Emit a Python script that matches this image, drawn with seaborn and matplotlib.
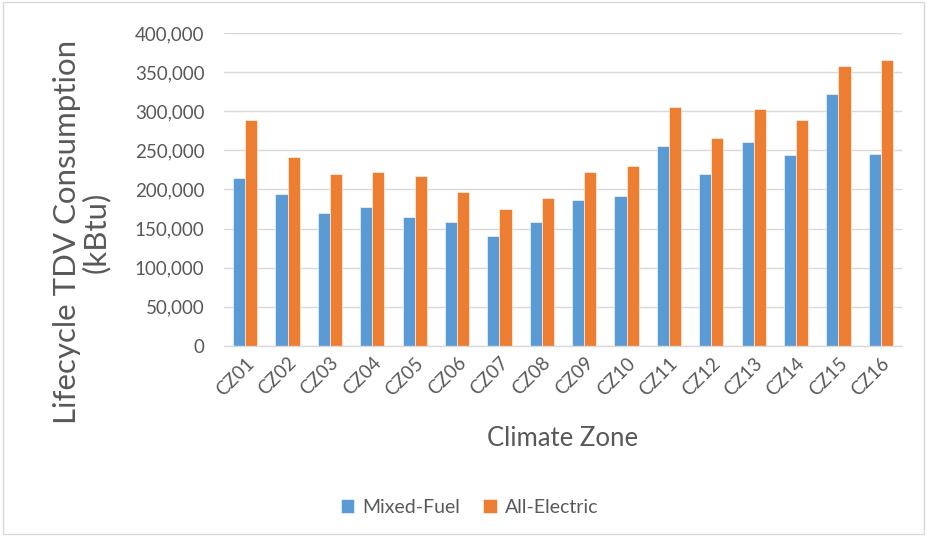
import pandas as pd
import matplotlib.pyplot as plt
import seaborn as sns

zones = ['CZ01', 'CZ02', 'CZ03', 'CZ04', 'CZ05', 'CZ06', 'CZ07', 'CZ08',
         'CZ09', 'CZ10', 'CZ11', 'CZ12', 'CZ13', 'CZ14', 'CZ15', 'CZ16']
mixed_fuel = [215000, 194000, 170000, 177000, 165000, 158000, 141000, 158000,
              186500, 191500, 255500, 220000, 260500, 244000, 322000, 246000]
all_electric = [289000, 241500, 220000, 222500, 217500, 196500, 175000, 188500,
                222500, 229500, 305500, 265500, 303000, 289000, 358000, 365000]
y_ticks = [0, 50000, 100000, 150000, 200000, 250000, 300000, 350000, 400000]

# long format for seaborn
df = pd.DataFrame({
    'zone': zones * 2,
    'value': mixed_fuel + all_electric,
    'series': ['Mixed-Fuel'] * len(zones) + ['All-Electric'] * len(zones),
})

sns.set_style('white')
plt.rcParams['font.family'] = ['Lato', 'DejaVu Sans']
text_color = '#595959'

fig = plt.figure(figsize=(9.27, 5.36), dpi=100)
ax = fig.add_axes([224 / 927, 1 - 346 / 536, (902 - 224) / 927, (346 - 33) / 536])

sns.barplot(data=df, x='zone', y='value', hue='series', ax=ax,
            palette={'Mixed-Fuel': '#5B9BD5', 'All-Electric': '#ED7D31'},
            width=0.57, saturation=1, edgecolor='white', linewidth=0.4)

ax.set_ylim(0, 400000)
ax.set_xlim(-0.5, len(zones) - 0.5)
ax.set_yticks(y_ticks)
ax.set_yticklabels([f'{v:,}' for v in y_ticks], fontsize=13.5, color=text_color)
ax.yaxis.grid(True, color='#d9d9d9', linewidth=1)
ax.set_axisbelow(True)
for side in ['top', 'right', 'left']:
    ax.spines[side].set_visible(False)
ax.spines['bottom'].set_color('#d9d9d9')
ax.spines['bottom'].set_linewidth(1)
ax.tick_params(axis='y', length=0, pad=14)
ax.tick_params(axis='x', length=0, pad=6)
plt.setp(ax.get_xticklabels(), rotation=45, ha='right', rotation_mode='anchor',
         fontsize=13.5, color=text_color)

ax.set_xlabel('Climate Zone', fontsize=18.5, color=text_color)
ax.xaxis.set_label_coords(0.5, -0.294)
ax.xaxis.label.set_va('center')
ax.set_ylabel('Lifecycle TDV Consumption\n(kBtu)', fontsize=22.5, color=text_color,
              linespacing=1.0)
ax.yaxis.set_label_coords(-0.21, 0.364)
ax.yaxis.label.set_va('center')

ax.legend(loc='center', bbox_to_anchor=(0.362, -0.515), ncol=2, frameon=False,
          fontsize=14, labelcolor=text_color, handlelength=0.7, handleheight=0.7,
          columnspacing=1.2, handletextpad=0.4)

# thin frame round the figure like the exported chart
fig.patches.append(plt.Rectangle((0.003, 0.003), 0.994, 0.994, transform=fig.transFigure,
                                 fill=False, edgecolor='#d9d9d9', linewidth=1))

plt.savefig('out.png', dpi=100)
plt.close()
